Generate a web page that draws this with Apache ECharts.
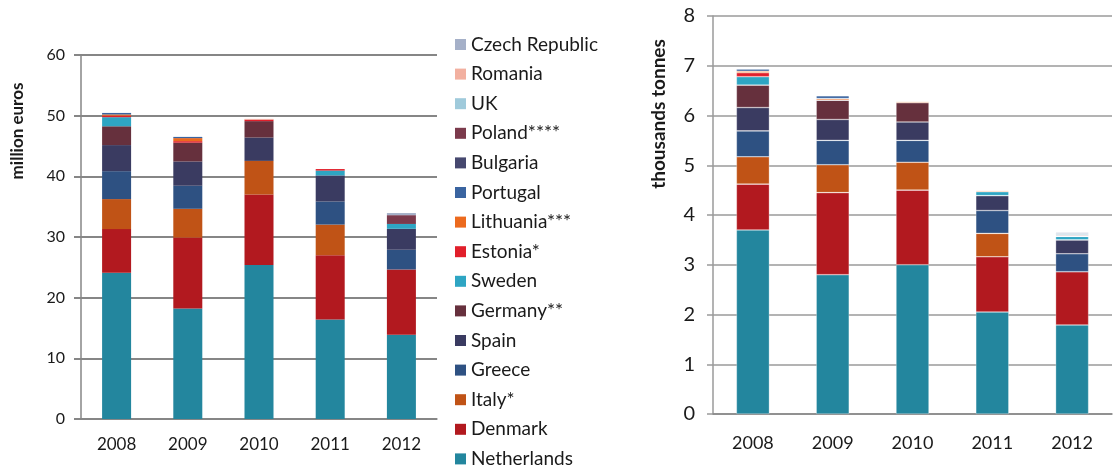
<!DOCTYPE html>
<html>
<head>
<meta charset="utf-8">
<title>million euros / thousands tonnes</title>
<script src="https://cdn.jsdelivr.net/npm/echarts@6/dist/echarts.min.js"></script>
<style>
    html, body { margin: 0; padding: 0; background: #fff; }
    #chart-main { width: 1114px; height: 472px; }
</style>
</head>
<body>
<div id="chart-main"></div>
<script>
// 年份
var years = ['2008', '2009', '2010', '2011', '2012'];

// 国家（从下往上堆叠的顺序）
var countries = ['Netherlands', 'Denmark', 'Italy*', 'Greece', 'Spain', 'Germany**', 'Sweden',
    'Estonia*', 'Lithuania***', 'Portugal', 'Bulgaria', 'Poland****', 'UK', 'Romania', 'Czech Republic'];

var colors = ['#23869e', '#b2191f', '#c05316', '#2e5182', '#3a3b61', '#66303d', '#2ea5c3',
    '#e11f2b', '#ec6a1e', '#3a64a0', '#46486f', '#7b3a4c', '#9fcadb', '#f2b0a0', '#a5b0c8'];

// 左图：million euros
var eurNetherlands = [24.1, 18.2, 25.4, 16.4, 13.9];
var eurDenmark = [7.2, 11.7, 11.6, 10.6, 10.75];
var eurItaly = [4.95, 4.75, 5.55, 5.05, 0];
var eurGreece = [4.6, 3.8, 0, 3.8, 3.25];
var eurSpain = [4.3, 4.0, 3.85, 4.3, 3.45];
var eurGermany = [3.1, 3.1, 2.7, 0, 0];
var eurSweden = [1.5, 0, 0, 0.8, 0.8];
var eurEstonia = [0.25, 0.25, 0.25, 0.25, 0];
var eurLithuania = [0.2, 0.5, 0, 0, 0];
var eurPortugal = [0.25, 0.2, 0, 0, 0];
var eurBulgaria = [0, 0, 0, 0, 0];
var eurPoland = [0, 0, 0, 0, 1.45];
var eurUK = [0, 0, 0, 0, 0];
var eurRomania = [0, 0, 0.12, 0, 0];
var eurCzech = [0, 0, 0, 0, 0.35];

// 右图：thousands tonnes
var tNetherlands = [3.70, 2.80, 3.00, 2.05, 1.79];
var tDenmark = [0.92, 1.65, 1.50, 1.11, 1.07];
var tItaly = [0.55, 0.56, 0.56, 0.47, 0];
var tGreece = [0.52, 0.49, 0.44, 0.46, 0.36];
var tSpain = [0.47, 0.42, 0.37, 0.30, 0.28];
var tGermany = [0.45, 0.39, 0.39, 0, 0];
var tSweden = [0.17, 0, 0, 0.08, 0.07];
var tEstonia = [0.08, 0, 0, 0, 0];
var tLithuania = [0.03, 0.03, 0.03, 0.03, 0];
var tPortugal = [0.05, 0.06, 0, 0, 0];
var tBulgaria = [0, 0, 0, 0, 0];
var tPoland = [0, 0, 0, 0, 0.02];
var tUK = [0, 0, 0, 0, 0.03];
var tRomania = [0, 0, 0, 0, 0];
var tCzech = [0, 0, 0, 0, 0.03];

var eurData = [eurNetherlands, eurDenmark, eurItaly, eurGreece, eurSpain, eurGermany, eurSweden,
    eurEstonia, eurLithuania, eurPortugal, eurBulgaria, eurPoland, eurUK, eurRomania, eurCzech];
var tData = [tNetherlands, tDenmark, tItaly, tGreece, tSpain, tGermany, tSweden,
    tEstonia, tLithuania, tPortugal, tBulgaria, tPoland, tUK, tRomania, tCzech];

var fontName = 'Lato, "Open Sans", sans-serif';
var textColor = '#1a1a1a';
var axisGrey = '#868686';

var chart = echarts.init(document.getElementById('chart-main'));

var series = [];
countries.forEach(function (name, i) {
    series.push({
        name: name,
        type: 'bar',
        stack: 'eur',
        xAxisIndex: 0,
        yAxisIndex: 0,
        barWidth: 29,
        data: eurData[i],
        itemStyle: { color: colors[i] }
    });
    series.push({
        name: name,
        type: 'bar',
        stack: 'tonnes',
        xAxisIndex: 1,
        yAxisIndex: 1,
        barWidth: 33,
        data: tData[i],
        itemStyle: { color: colors[i], borderColor: 'rgba(255,255,255,0.5)', borderWidth: 0.6 }
    });
});

function xAxisFor(gridIndex, fontSize, margin) {
    return {
        type: 'category',
        gridIndex: gridIndex,
        data: years,
        axisLine: { lineStyle: { color: axisGrey, width: 1.5 } },
        axisTick: { length: 8, lineStyle: { color: axisGrey, width: 1.5 } },
        axisLabel: { color: textColor, fontSize: fontSize, fontFamily: fontName, margin: margin }
    };
}

var option = {
    animation: false,
    textStyle: { fontFamily: fontName },
    legend: {
        orient: 'vertical',
        left: 455,
        top: 35,
        padding: 0,
        itemWidth: 11,
        itemHeight: 11,
        itemGap: 10.6,
        icon: 'rect',
        data: countries.slice().reverse(),
        textStyle: { color: textColor, fontSize: 19, lineHeight: 19, fontFamily: fontName }
    },
    grid: [
        { left: 81, top: 55, width: 356, height: 364 },
        { left: 713, top: 16, width: 399, height: 398 }
    ],
    xAxis: [
        xAxisFor(0, 17, 17),
        xAxisFor(1, 18, 20)
    ],
    yAxis: [{
        type: 'value',
        gridIndex: 0,
        min: 0,
        max: 60,
        interval: 10,
        axisLine: { show: true, lineStyle: { color: axisGrey, width: 1.5 } },
        axisTick: { show: true, length: 7, lineStyle: { color: axisGrey, width: 2 } },
        axisLabel: { color: textColor, fontSize: 16, margin: 16, fontFamily: fontName },
        splitLine: { lineStyle: { color: axisGrey, width: 2 } }
    }, {
        type: 'value',
        gridIndex: 1,
        min: 0,
        max: 8,
        interval: 1,
        axisLine: { show: true, lineStyle: { color: '#9a9a9a', width: 1.5 } },
        axisTick: { show: true, length: 6, lineStyle: { color: '#9a9a9a', width: 1.5 } },
        axisLabel: { color: textColor, fontSize: 20, margin: 18, fontFamily: fontName },
        splitLine: { lineStyle: { color: '#9a9a9a', width: 1.5 } }
    }],
    // 纵轴标题
    graphic: [{
        type: 'text',
        x: 18,
        y: 131,
        rotation: Math.PI / 2,
        style: {
            text: 'million euros',
            fill: textColor,
            fontSize: 17,
            fontWeight: 'bold',
            fontFamily: fontName,
            align: 'center',
            verticalAlign: 'middle'
        }
    }, {
        type: 'text',
        x: 659,
        y: 114,
        rotation: Math.PI / 2,
        style: {
            text: 'thousands tonnes',
            fill: textColor,
            fontSize: 19,
            fontWeight: 'bold',
            fontFamily: fontName,
            align: 'center',
            verticalAlign: 'middle'
        }
    }],
    series: series
};

chart.setOption(option);
</script>
</body>
</html>
